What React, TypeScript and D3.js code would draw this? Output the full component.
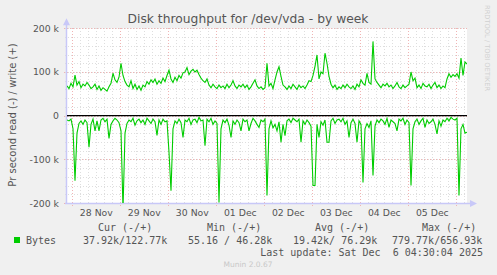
import React, { useEffect, useRef } from "react";
import * as d3 from "d3";

// write (+) and read (-) throughput, in k, one sample per hour
const writeValues = [
  68, 62, 74, 66, 93, 70, 78, 64, 72, 68,
  76, 70, 62, 66, 72, 60, 68, 58, 64, 60,
  56, 66, 74, 97, 82, 76, 88, 120, 92, 78,
  70, 66, 80, 62, 72, 60, 68, 58, 70, 66,
  78, 72, 82, 76, 84, 72, 80, 74, 86, 78,
  92, 104, 84, 76, 88, 80, 92, 86, 98, 100,
  110, 94, 102, 106, 100, 104, 94, 86, 80, 76,
  84, 70, 64, 72, 66, 62, 70, 64, 68, 62,
  72, 64, 70, 80, 68, 62, 70, 66, 72, 64,
  70, 60, 66, 74, 82, 68, 62, 66, 60, 64,
  120, 68, 74, 62, 82, 100, 112, 90, 70, 66,
  60, 68, 62, 72, 66, 60, 70, 64, 68, 62,
  70, 80, 78, 92, 113, 139, 84, 100, 96, 143,
  120, 90, 72, 64, 70, 60, 66, 62, 70, 64,
  72, 66, 62, 68, 60, 72, 66, 82, 74, 70,
  97, 76, 72, 170, 84, 76, 70, 64, 72, 68,
  74, 66, 70, 62, 68, 76, 66, 62, 70, 64,
  68, 72, 100, 80, 86, 64, 70, 62, 74, 68,
  66, 72, 62, 70, 76, 64, 70, 62, 68, 64,
  84, 96, 88, 94, 90, 96, 86, 132, 92, 123,
  118
];

const readValues = [
  -10, -12, -8, -30, -149, -40, -18, -12, -20, -10,
  -16, -72, -20, -8, -35, -12, -35, -10, -6, -14,
  -8, -52, -20, -12, -6, -10, -16, -35, -215, -40,
  -18, -10, -14, -6, -22, -12, -8, -16, -10, -20,
  -6, -12, -18, -8, -14, -45, -10, -20, -8, -14,
  -12, -84, -172, -30, -12, -18, -8, -16, -50, -10,
  -14, -6, -20, -10, -8, -16, -4, -12, -10, -69,
  -8, -14, -6, -20, -12, -18, -199, -30, -10, -16,
  -8, -22, -50, -12, -20, -10, -16, -35, -8, -14,
  -10, -35, -18, -6, -12, -20, -27, -10, -14, -8,
  -183, -30, -12, -28, -20, -35, -14, -61, -20, -46,
  -12, -8, -16, -6, -10, -14, -8, -61, -12, -20,
  -10, -16, -24, -160, -160, -20, -50, -14, -22, -10,
  -61, -61, -12, -6, -18, -10, -8, -14, -6, -20,
  -12, -50, -16, -8, -18, -61, -12, -20, -153, -30,
  -18, -27, -12, -137, -24, -10, -16, -8, -12, -20,
  -6, -27, -10, -14, -18, -35, -8, -12, -6, -20,
  -10, -16, -160, -30, -14, -8, -20, -12, -6, -27,
  -10, -18, -14, -8, -20, -42, -12, -24, -10, -14,
  -6, -12, -4, -8, -10, -6, -183, -30, -20, -40,
  -38
];

const legendHeaders = ["Cur (-/+)", "Min (-/+)", "Avg (-/+)", "Max (-/+)"];
const legendValues = ["37.92k/122.77k", "55.16 / 46.28k", "19.42k/ 76.29k", "779.77k/656.93k"];

const startTime = Date.UTC(2025, 10, 27, 21, 20);
const endTime = Date.UTC(2025, 11, 6, 5, 20);

function App() {
  const node = useRef<SVGSVGElement>(null);

  useEffect(() => {
    const svg = d3.select(node.current);
    svg.selectAll("*").remove();

    const left = 67, right = 467, top = 28.3, bottom = 203;
    const x = d3.scaleUtc().domain([new Date(startTime), new Date(endTime)]).range([left, right]);
    const y = d3.scaleLinear().domain([-200, 200]).range([bottom, top]);
    const hour = 3600 * 1000;

    svg.append("rect").attr("width", 497).attr("height", 275).attr("fill", "#f0f0f0");
    svg.append("rect").attr("x", left).attr("y", top).attr("width", right - left).attr("height", bottom - top).attr("fill", "#fff");

    // grid
    const minorX = x.ticks(d3.utcHour.every(4)!);
    const majorX = x.ticks(d3.utcDay.every(1)!);
    const minorY = d3.range(-200, 201, 20);
    const majorY = [-200, -100, 0, 100, 200];
    const grid = svg.append("g").attr("shape-rendering", "crispEdges");
    const minorColor = "#dedede";
    const majorColor = "#f0b4b4";

    grid.selectAll(".mx").data(minorX).enter().append("line")
      .attr("x1", d => Math.round(x(d)) + 0.5).attr("x2", d => Math.round(x(d)) + 0.5)
      .attr("y1", top).attr("y2", bottom + 2)
      .attr("stroke", minorColor).attr("stroke-dasharray", "1,2");
    grid.selectAll(".my").data(minorY).enter().append("line")
      .attr("y1", d => Math.round(y(d)) + 0.5).attr("y2", d => Math.round(y(d)) + 0.5)
      .attr("x1", left - 2).attr("x2", right)
      .attr("stroke", minorColor).attr("stroke-dasharray", "1,2");
    grid.selectAll(".Mx").data(majorX).enter().append("line")
      .attr("x1", d => Math.round(x(d)) + 0.5).attr("x2", d => Math.round(x(d)) + 0.5)
      .attr("y1", top).attr("y2", bottom + 3)
      .attr("stroke", majorColor).attr("stroke-dasharray", "1,2");
    grid.selectAll(".My").data(majorY).enter().append("line")
      .attr("y1", d => Math.round(y(d)) + 0.5).attr("y2", d => Math.round(y(d)) + 0.5)
      .attr("x1", left - 3).attr("x2", right)
      .attr("stroke", majorColor).attr("stroke-dasharray", "1,2");

    // axes with arrows
    const axisColor = "#c8c8f8";
    svg.append("line").attr("x1", left - 0.5).attr("x2", left - 0.5).attr("y1", bottom + 1).attr("y2", top - 4)
      .attr("stroke", axisColor).attr("stroke-width", 1.5);
    svg.append("path").attr("d", `M${left - 4},${top - 3}L${left - 0.5},${top - 10}L${left + 3},${top - 3}Z`).attr("fill", axisColor);
    svg.append("line").attr("x1", left - 2).attr("x2", right + 4).attr("y1", bottom + 0.5).attr("y2", bottom + 0.5)
      .attr("stroke", axisColor).attr("stroke-width", 1.5);
    svg.append("path").attr("d", `M${right + 3},${bottom - 3}L${right + 10},${bottom + 0.5}L${right + 3},${bottom + 4}Z`).attr("fill", axisColor);

    // zero line
    svg.append("line").attr("x1", left).attr("x2", right).attr("y1", y(0)).attr("y2", y(0))
      .attr("stroke", "#000").attr("stroke-width", 1.2);

    // data
    svg.append("clipPath").attr("id", "plotclip").append("rect")
      .attr("x", left).attr("y", top).attr("width", right - left).attr("height", bottom - top);
    const line = d3.line<number>()
      .x((d, i) => x(new Date(startTime + i * hour)))
      .y(d => y(d));
    const series = svg.append("g").attr("clip-path", "url(#plotclip)");
    series.append("path").datum(readValues).attr("d", line).attr("fill", "none").attr("stroke", "#00cc00").attr("stroke-width", 1.1);
    series.append("path").datum(writeValues).attr("d", line).attr("fill", "none").attr("stroke", "#00cc00").attr("stroke-width", 1.1);

    // tick labels
    const txt = "#555";
    svg.selectAll(".yl").data(majorY).enter().append("text")
      .attr("x", 59).attr("y", d => y(d) + 3.5).attr("text-anchor", "end")
      .attr("font-family", "DejaVu Sans").attr("font-size", 9.3).attr("fill", txt)
      .text(d => d === 0 ? "0" : `${d} k`);
    svg.selectAll(".xl").data(majorX).enter().append("text")
      .attr("x", d => x(new Date(+d + 12 * hour))).attr("y", 216).attr("text-anchor", "middle")
      .attr("font-family", "DejaVu Sans").attr("font-size", 9.3).attr("fill", txt)
      .text(d => (x(new Date(+d + 12 * hour)) < right ? d3.utcFormat("%d %b")(d) : ""));

    // title and side labels
    svg.append("text").attr("x", 248).attr("y", 23).attr("text-anchor", "middle")
      .attr("font-family", "DejaVu Sans").attr("font-size", 12.3).attr("fill", txt)
      .text("Disk throughput for /dev/vda - by week");
    svg.append("text").attr("transform", "translate(15.5,115) rotate(-90)").attr("text-anchor", "middle")
      .attr("font-family", "DejaVu Sans").attr("font-size", 10).attr("fill", txt)
      .text("Pr second read (-) / write (+)");
    svg.append("text").attr("transform", "translate(485,5) rotate(90)").attr("text-anchor", "start")
      .attr("font-family", "DejaVu Sans").attr("font-size", 6.7).attr("fill", "#d0d0d0")
      .text("RRDTOOL / TOBI OETIKER");

    // legend
    const mono = "DejaVu Sans Mono";
    const headerX = [98, 207, 315, 422];
    const valueX = [83, 188, 293, 392];
    legendHeaders.forEach((h, i) => {
      svg.append("text").attr("x", headerX[i]).attr("y", 231).attr("font-family", mono).attr("font-size", 10)
        .attr("fill", txt).style("white-space", "pre").text(h);
    });
    legendValues.forEach((v, i) => {
      svg.append("text").attr("x", valueX[i]).attr("y", 243.5).attr("font-family", mono).attr("font-size", 10)
        .attr("fill", txt).style("white-space", "pre").text(v);
    });
    svg.append("rect").attr("x", 14).attr("y", 237).attr("width", 6).attr("height", 6).attr("fill", "#00cc00");
    svg.append("text").attr("x", 26).attr("y", 243.5).attr("font-family", mono).attr("font-size", 10)
      .attr("fill", txt).text("Bytes");
    svg.append("text").attr("x", 483).attr("y", 255.5).attr("text-anchor", "end").attr("font-family", mono).attr("font-size", 10)
      .attr("fill", txt).style("white-space", "pre").text("Last update: Sat Dec  6 04:30:04 2025");
    svg.append("text").attr("x", 248).attr("y", 266.5).attr("text-anchor", "middle").attr("font-family", "DejaVu Sans").attr("font-size", 7.5)
      .attr("fill", "#c8c8c8").text("Munin 2.0.67");
  }, []);

  return (
    <svg ref={node} width={497} height={275} style={{ display: "block", position: "absolute", left: 0, top: 0 }} />
  );
}

export default App;
